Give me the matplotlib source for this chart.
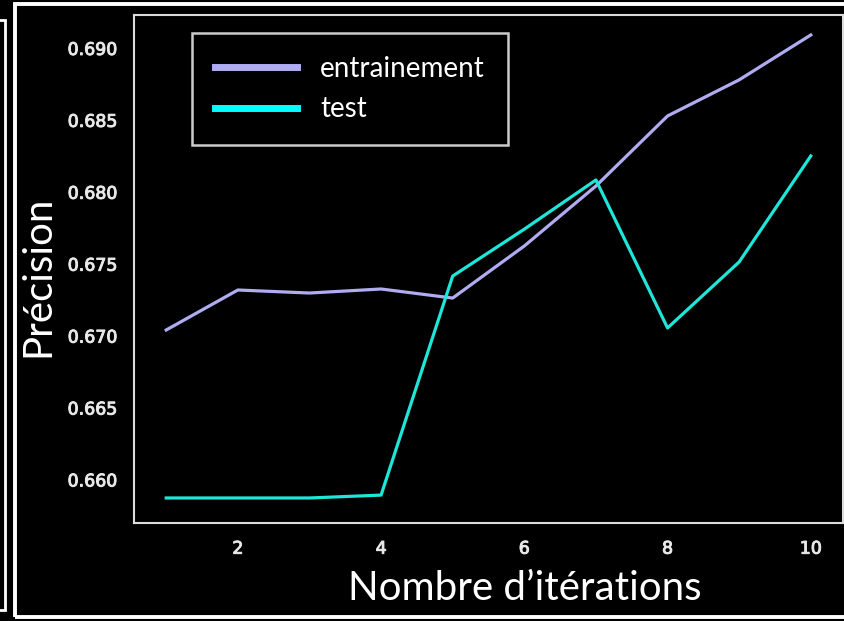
import matplotlib
matplotlib.use("Agg")
import matplotlib.pyplot as plt
from matplotlib.patches import Rectangle
import matplotlib.patheffects as pe

iterations = [1, 2, 3, 4, 5, 6, 7, 8, 9, 10]
train_acc = [0.67039, 0.67317, 0.67296, 0.67324, 0.67261, 0.67623, 0.68040, 0.68527, 0.68778, 0.69090]
test_acc = [0.65871, 0.65871, 0.65871, 0.65891, 0.67414, 0.67740, 0.68082, 0.67053, 0.67512, 0.68249]
x_ticks = [2, 4, 6, 8, 10]
y_ticks = [0.660, 0.665, 0.670, 0.675, 0.680, 0.685, 0.690]
series_labels = ["entrainement", "test"]
x_label = "Nombre d’itérations"
y_label = "Précision"

W, H = 844, 621
fig = plt.figure(figsize=(W / 100, H / 100), dpi=100, facecolor="black")

def fx(px):
    return px / W

def fy(py):
    return 1 - py / H

# decorative frames
fig.add_artist(Rectangle((fx(15.5), fy(617)), fx(900), fy(3.5) - fy(617),
                         transform=fig.transFigure, fill=False, edgecolor="white",
                         linewidth=2.8, clip_on=False))
fig.add_artist(Rectangle((fx(-50), fy(610)), fx(54.5), fy(20) - fy(610),
                         transform=fig.transFigure, fill=False, edgecolor="white",
                         linewidth=2.0, clip_on=False))

ax = fig.add_axes([fx(134), fy(523), fx(843) - fx(134), fy(15) - fy(523)])
ax.set_facecolor("black")
for s in ax.spines.values():
    s.set_color("#dcdcdc")
    s.set_linewidth(1.5)

ax.plot(iterations, train_acc, color="#b0acf2", linewidth=2.3, label=series_labels[0])
ax.plot(iterations, test_acc, color="#1ee6d8", linewidth=2.3, label=series_labels[1])

ax.set_xticks(x_ticks)
ax.set_yticks(y_ticks)
ax.set_yticklabels([f"{v:.3f}" for v in y_ticks])
ax.set_ylim(0.65697, 0.69229)
ax.tick_params(axis="both", length=0, pad=12, labelsize=12.5, colors="#e8e8e8")
for lab in ax.get_xticklabels() + ax.get_yticklabels():
    lab.set_fontfamily("DejaVu Sans")
    lab.set_path_effects([pe.withStroke(linewidth=0.7, foreground="#e8e8e8")])

ax.set_xlabel(x_label, fontsize=29, color="white", family="Lato", labelpad=9)
ax.xaxis.set_label_coords(0.551, -0.093, transform=ax.transAxes)
ax.xaxis.label.set_va("top")
ax.set_ylabel(y_label, fontsize=29, color="white", family="Lato", labelpad=8)
ax.yaxis.label.set_y(0.486)

leg = ax.legend(loc="upper left", bbox_to_anchor=(0.0818, 0.9646), frameon=True,
                fancybox=False, facecolor="black", edgecolor="white",
                prop={"family": "Lato", "size": 20}, handlelength=2.97,
                handletextpad=0.82, labelspacing=0.53, borderpad=0.82, borderaxespad=0)
leg.get_frame().set_linewidth(1.8)
for t in leg.get_texts():
    t.set_color("white")
leg.get_lines()[0].set_color("#b0acf2")
leg.get_lines()[1].set_color("#00ffff")
for l in leg.get_lines():
    l.set_linewidth(5)

fig.savefig("out.png", dpi=100, facecolor="black")
